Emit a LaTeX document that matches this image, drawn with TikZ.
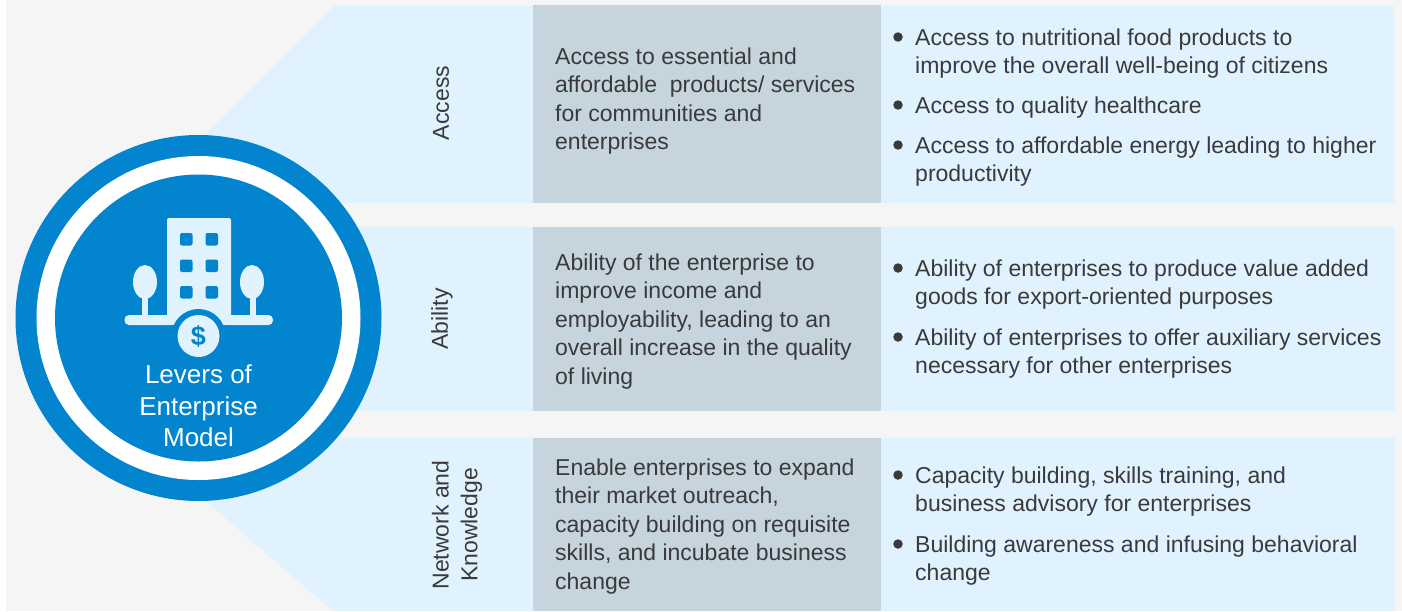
\documentclass[tikz,border=0pt]{standalone}
\usepackage{fontspec}
\setmainfont{Liberation Sans}
\definecolor{pagebg}{HTML}{F5F5F5}
\definecolor{paleblue}{HTML}{E0F2FD}
\definecolor{midgrey}{HTML}{C5D4DD}
\definecolor{corpblue}{HTML}{0284CE}
\definecolor{bodytext}{HTML}{3A3A3C}
\tikzset{
  x=1pt,y=-1pt,
  body/.style={anchor=north west,inner sep=0pt,align=left,text=bodytext,font=\fontsize{23}{28.5}\selectfont},
  side/.style={inner sep=0pt,align=center,rotate=90,text=bodytext,font=\fontsize{23}{28.8}\selectfont},
  dot/.style={circle,fill=bodytext,draw=none,minimum size=9.5pt,inner sep=0pt},
  pale/.style={fill=paleblue,draw=none},
  grey/.style={fill=midgrey,draw=none},
  win/.style={fill=corpblue,draw=none,rounded corners=2pt},
  ico/.style={fill=paleblue,draw=none},
}
\begin{document}
\begin{tikzpicture}
\useasboundingbox (0,0) rectangle (1402,611);
\fill[white] (0,0) rectangle (1402,611);
\fill[pagebg] (6,0) rectangle (1402,611);
% panels
\fill[pale] (334,6) -- (1394,6) -- (1394,203) -- (334,203) -- (200,203) -- (200,140) -- cycle;
\fill[pale] (300,227) rectangle (1395,411);
\fill[pale] (200,438) -- (1395,438) -- (1395,611) -- (333,611) -- (200,496) -- cycle;
\fill[grey] (533,5) rectangle (881,203);
\fill[grey] (533,227) rectangle (881,411);
\fill[grey] (533,438) rectangle (881,611);
% circle
\fill[corpblue] (198.5,318) circle[radius=183];
\fill[white] (198.5,318) circle[radius=162];
\fill[corpblue] (198.5,318) circle[radius=143.5];
% icon
\fill[ico,rounded corners=2pt] (167,218) rectangle (231,322);
\fill[ico,rounded corners=4.5pt] (124.5,315) rectangle (273,325);
\fill[ico] (142,295) rectangle (148,318);
\fill[ico] (250,295) rectangle (256,318);
\fill[ico] (145,282) ellipse[x radius=12,y radius=17];
\fill[ico] (252,282) ellipse[x radius=12,y radius=17];
\foreach \wy in {233,259.5,286}{
  \fill[win] (180,\wy) rectangle +(12.5,12.5);
  \fill[win] (205.5,\wy) rectangle +(12.5,12.5);
}
\fill[corpblue] (198.5,336) circle[radius=27];
\fill[corpblue] (171,325) rectangle (226,345);
\node[circle,fill=paleblue,minimum size=42pt,inner sep=0pt,text=corpblue,font=\fontsize{27}{27}\selectfont\bfseries] (badge) at (198.5,336) {\$};
\node[inner sep=0pt,align=center,text=white,font=\fontsize{26}{31.3}\selectfont] (hub) at (198.5,406) {Levers of\\Enterprise\\Model};
% side labels
\node[side] (l1) at (441,103) {Access};
\node[side] (l2) at (442,319) {Ability};
\node[side] (l3) at (457,525) {Network and\\Knowledge};
% middle column
\node[body] (m1) at (555,47.4) {Access to essential and\\affordable\ \ products/ services\\for communities and\\enterprises};
\node[body] (m2) at (555,253.4) {Ability of the enterprise to\\improve income and\\employability, leading to an\\overall increase in the quality\\of living};
\node[body] (m3) at (555,458.4) {Enable enterprises to expand\\their market outreach,\\capacity building on requisite\\skills, and incubate business\\change};
% right column
\node[dot] (d1) at (898,37) {};
\node[body] (r1) at (915,28.4) {Access to nutritional food products to\\improve the overall well-being of citizens};
\node[dot] (d2) at (898,105) {};
\node[body] (r2) at (915,96.4) {Access to quality healthcare};
\node[dot] (d3) at (898,145) {};
\node[body] (r3) at (915,136.4) {Access to affordable energy leading to higher\\productivity};
\node[dot] (d4) at (898,268) {};
\node[body] (r4) at (915,259.4) {Ability of enterprises to produce value added\\goods for export-oriented purposes};
\node[dot] (d5) at (898,337) {};
\node[body] (r5) at (915,328.4) {Ability of enterprises to offer auxiliary services\\necessary for other enterprises};
\node[dot] (d6) at (898,475) {};
\node[body] (r6) at (915,466.4) {Capacity building, skills training, and\\business advisory for enterprises};
\node[dot] (d7) at (898,544) {};
\node[body] (r7) at (915,535.4) {Building awareness and infusing behavioral\\change};
\end{tikzpicture}
\end{document}
